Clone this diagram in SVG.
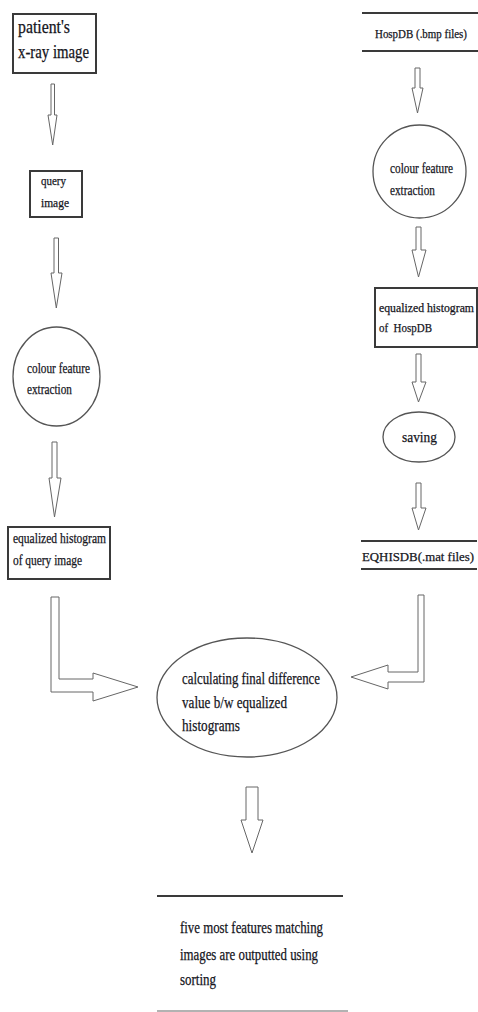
<svg xmlns="http://www.w3.org/2000/svg" width="478" height="1012" viewBox="0 0 478 1012">
<style>
.t{font-family:"Liberation Serif","Times New Roman",serif;fill:#15151c;stroke:#15151c;stroke-width:0.25}
.box{fill:#fff;stroke:#3a3a3a;stroke-width:2}
.circ{fill:#fff;stroke:#555;stroke-width:1.3}
.rule{stroke:#3a3a3a;stroke-width:2}
.arr{fill:#fff;stroke:#666;stroke-width:1;stroke-linejoin:miter}
</style>
<rect width="478" height="1012" fill="#fff"/>
<g id="connectors">
<polygon class="arr" points="51,84 54.5,84 54.5,115 57,115 52.7,145 48,115 51,115"/>
<polygon class="arr" points="54,238 58.5,238 58.5,273 62,273 56.3,308 51,273 54,273"/>
<polygon class="arr" points="52,442 57,442 57,478 61,478 54.5,517 49,478 52,478"/>
<polygon class="arr" points="415,68 420,68 420,88 423,88 417.5,113 412,88 415,88"/>
<polygon class="arr" points="416,227 421,227 421,250 426,250 418.5,277 412,250 416,250"/>
<polygon class="arr" points="416,354 421,354 421,382 426,382 418.5,402 412,382 416,382"/>
<polygon class="arr" points="416,483 421,483 421,508 426,508 418.5,530 412,508 416,508"/>
<polygon class="arr" points="51,597 59,597 59,679 93,679 93,673 138,687 93,701 93,692 51,692"/>
<polygon class="arr" points="418,595 424,595 424,682 388,682 388,689 351,677 388,665 388,672 418,672"/>
<polygon class="arr" points="246,787 258,787 258,820 263,820 252,853 241,820 246,820"/>
</g>
<g id="patient">
<rect class="box" x="13" y="14" width="83" height="59"/>
<text class="t" x="18" y="33" font-size="18" textLength="52" lengthAdjust="spacingAndGlyphs">patient's</text>
<text class="t" x="18" y="58" font-size="18" textLength="71" lengthAdjust="spacingAndGlyphs">x-ray image</text>
</g>
<g id="query">
<rect class="box" x="30" y="171" width="52" height="46"/>
<text class="t" x="41" y="185" font-size="13" textLength="25" lengthAdjust="spacingAndGlyphs">query</text>
<text class="t" x="41" y="207" font-size="13" textLength="28" lengthAdjust="spacingAndGlyphs">image</text>
</g>
<g id="cfe-left">
<ellipse class="circ" cx="56.5" cy="376.5" rx="43.5" ry="49.5"/>
<text class="t" x="27" y="373" font-size="15" textLength="63" lengthAdjust="spacingAndGlyphs">colour feature</text>
<text class="t" x="27" y="394" font-size="15" textLength="45" lengthAdjust="spacingAndGlyphs">extraction</text>
</g>
<g id="eqhist-query">
<rect class="box" x="8" y="527" width="102" height="52"/>
<text class="t" x="13" y="543" font-size="14" textLength="93" lengthAdjust="spacingAndGlyphs">equalized histogram</text>
<text class="t" x="13" y="565" font-size="14" textLength="69" lengthAdjust="spacingAndGlyphs">of query image</text>
</g>
<g id="hospdb">
<line class="rule" x1="362" y1="13" x2="478" y2="13"/>
<line class="rule" x1="362" y1="51" x2="478" y2="51"/>
<text class="t" x="375" y="38" font-size="12" textLength="92" lengthAdjust="spacingAndGlyphs">HospDB (.bmp files)</text>
</g>
<g id="cfe-right">
<ellipse class="circ" cx="419.5" cy="171.5" rx="46.5" ry="46.5"/>
<text class="t" x="390" y="173" font-size="15" textLength="63" lengthAdjust="spacingAndGlyphs">colour feature</text>
<text class="t" x="390" y="195" font-size="15" textLength="45" lengthAdjust="spacingAndGlyphs">extraction</text>
</g>
<g id="eqhist-hospdb">
<rect class="box" x="375" y="288" width="102" height="59"/>
<text class="t" x="379" y="312" font-size="12" textLength="95" lengthAdjust="spacingAndGlyphs">equalized histogram</text>
<text class="t" x="379" y="332" font-size="13" textLength="53" lengthAdjust="spacingAndGlyphs" xml:space="preserve">of  HospDB</text>
</g>
<g id="saving">
<ellipse class="circ" cx="419" cy="437" rx="36" ry="25"/>
<text class="t" x="402" y="442" font-size="15" textLength="35" lengthAdjust="spacingAndGlyphs">saving</text>
</g>
<g id="eqhisdb">
<line class="rule" x1="361" y1="541" x2="477" y2="541"/>
<line class="rule" x1="361" y1="569" x2="477" y2="569"/>
<text class="t" x="362" y="561" font-size="13" textLength="112" lengthAdjust="spacingAndGlyphs">EQHISDB(.mat files)</text>
</g>
<g id="calc">
<ellipse class="circ" cx="247" cy="697.5" rx="90" ry="59.5"/>
<text class="t" x="182" y="684" font-size="17" textLength="138" lengthAdjust="spacingAndGlyphs">calculating final difference</text>
<text class="t" x="182" y="707.5" font-size="17" textLength="105" lengthAdjust="spacingAndGlyphs">value b/w equalized</text>
<text class="t" x="182" y="731" font-size="17" textLength="58" lengthAdjust="spacingAndGlyphs">histograms</text>
</g>
<g id="output">
<line class="rule" x1="157" y1="896" x2="343" y2="896"/>
<line x1="157" y1="1011" x2="348" y2="1011" stroke="#999" stroke-width="1.5"/>
<text class="t" x="180" y="933" font-size="16" textLength="143" lengthAdjust="spacingAndGlyphs">five most features matching</text>
<text class="t" x="180" y="960" font-size="16" textLength="138" lengthAdjust="spacingAndGlyphs">images are outputted using</text>
<text class="t" x="180" y="985" font-size="16" textLength="36" lengthAdjust="spacingAndGlyphs">sorting</text>
</g>
</svg>
